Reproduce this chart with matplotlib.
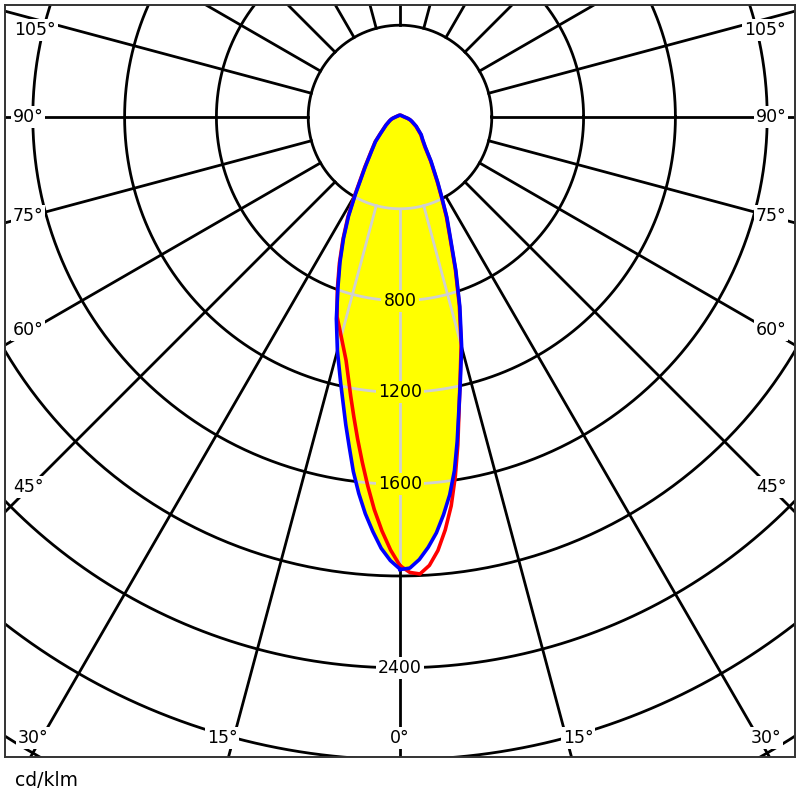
import numpy as np
import matplotlib.pyplot as plt
from matplotlib.patches import Polygon

# gamma angles (deg from nadir) and luminous intensity in cd/klm
gamma = [0, 1.25, 2.5, 3.75, 5, 6.25, 7.5, 8.75, 10, 12.5, 15, 17.5, 20, 22.5,
         25, 27.5, 30, 35, 40, 45, 50, 60, 70, 75, 80, 90, 105, 120, 135, 150,
         165, 180]
blue_c0 = [1972, 1966, 1930, 1879, 1819, 1743, 1660, 1559, 1435, 1209, 1038,
           867, 711, 576, 484, 395, 329, 236, 172, 140, 121, 82, 55, 45, 34,
           20, 13, 10, 9, 8, 8, 8]
blue_c180 = [1970, 1933, 1881, 1810, 1735, 1650, 1558, 1454, 1361, 1192, 1054,
             922, 791, 683, 582, 485, 389, 263, 192, 151, 110, 70, 48, 40, 32,
             20, 13, 10, 9, 8, 8, 8]
red_c90 = [1955, 1985, 1993, 1958, 1896, 1810, 1709, 1584, 1451, 1205, 1030,
           860, 705, 570, 478, 390, 324, 232, 168, 137, 118, 80, 53, 44, 33,
           19, 12, 10, 9, 8, 8, 8]
red_c270 = [1955, 1887, 1805, 1714, 1613, 1512, 1415, 1322, 1236, 1086, 990,
            912, 798, 690, 588, 492, 395, 268, 195, 153, 111, 71, 48, 40, 32,
            20, 13, 10, 9, 8, 8, 8]

ring_values = [400, 800, 1200, 1600, 2000, 2400, 2800, 3200, 3600, 4000]
ring_labels = [800, 1200, 1600, 2400]
angle_labels = [("105°", 35, 30), ("90°", 28, 117), ("75°", 28, 216),
                ("60°", 28, 330), ("45°", 28, 487), ("30°", 33, 738),
                ("15°", 222, 738), ("0°", 400, 738), ("15°", 578, 738),
                ("30°", 766, 738), ("45°", 771, 487), ("60°", 771, 330),
                ("75°", 771, 216), ("90°", 771, 117), ("105°", 765, 30)]

S = 0.2295          # px per cd/klm
CX, CY = 400, 117   # pole in pixels


def to_xy(g, r, side):
    g = np.radians(np.asarray(g, float))
    r = np.asarray(r, float)
    return side * r * np.sin(g), -r * np.cos(g)


def curve(right, left):
    xr, yr = to_xy(gamma, right, 1)
    xl, yl = to_xy(gamma[::-1], left[::-1], -1)
    return np.concatenate([xr, xl]), np.concatenate([yr, yl])


def draw_grid(ax, color, z, clip=None):
    t = np.linspace(0, 2 * np.pi, 721)
    arts = []
    for r in ring_values:
        arts += ax.plot(r * np.cos(t), r * np.sin(t), color=color, lw=2.0, zorder=z)
    for a in np.arange(0, 360, 15):
        x0, y0 = to_xy(a, 400, 1)
        x1, y1 = to_xy(a, 6000, 1)
        arts += ax.plot([x0, x1], [y0, y1], color=color, lw=2.0, zorder=z)
    if clip is not None:
        for a in arts:
            a.set_clip_path(clip)


fig = plt.figure(figsize=(8, 8), dpi=100)
ax = fig.add_axes([5 / 800, 43 / 800, 790 / 800, 752 / 800])
ax.set_xlim(-395 / S, 395 / S)
ax.set_ylim(-(757 - CY) / S, (CY - 5) / S)
ax.set_xticks([])
ax.set_yticks([])
for sp in ax.spines.values():
    sp.set_linewidth(1.4)
    sp.set_color('#333333')

draw_grid(ax, 'black', 1)

bx, by = curve(blue_c0, blue_c180)
rx, ry = curve(red_c90, red_c270)
fill = Polygon(np.column_stack([bx, by]), closed=True, facecolor='#ffff00',
               edgecolor='none', zorder=2)
ax.add_patch(fill)
draw_grid(ax, '#d0d0d0', 3, clip=fill)

ax.plot(rx, ry, color='#ff0000', lw=2.6, zorder=4, solid_joinstyle='round')
ax.plot(bx, by, color='#0000ff', lw=2.6, zorder=5, solid_joinstyle='round')

for v in ring_labels:
    bg = '#ffff00' if v < blue_c0[0] else 'white'
    ax.text(0, -v, str(v), ha='center', va='center', fontsize=12.5, zorder=6,
            bbox=dict(facecolor=bg, edgecolor='none', pad=1.5))

for txt, px, py in angle_labels:
    ax.text((px - CX) / S, (CY - py) / S, txt, ha='center', va='center',
            fontsize=12.5, zorder=6, clip_on=False,
            bbox=dict(facecolor='white', edgecolor='none', pad=1.5))

fig.text(15 / 800, 1 - 780 / 800, 'cd/klm', ha='left', va='center', fontsize=13.5)

fig.savefig('out.png', dpi=100)
